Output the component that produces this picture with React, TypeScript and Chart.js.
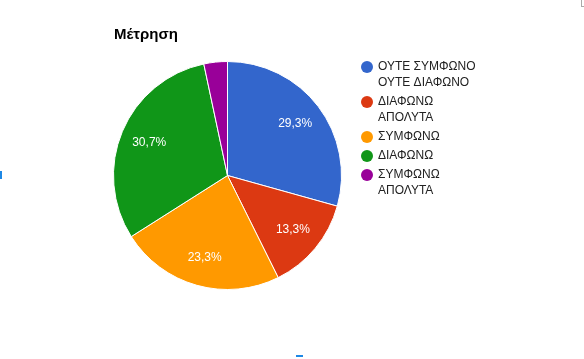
import React, { useEffect, useRef } from "react";
import { Chart, registerables } from "chart.js";

Chart.register(...registerables);

const chartTitle = "Μέτρηση";
const categories: string[][] = [
  ["ΟΥΤΕ ΣΥΜΦΩΝΟ", "ΟΥΤΕ ΔΙΑΦΩΝΟ"],
  ["ΔΙΑΦΩΝΩ", "ΑΠΟΛΥΤΑ"],
  ["ΣΥΜΦΩΝΩ"],
  ["ΔΙΑΦΩΝΩ"],
  ["ΣΥΜΦΩΝΩ", "ΑΠΟΛΥΤΑ"],
];
const counts = [44, 20, 35, 46, 5];
const colors = ["#3366cc", "#dc3912", "#ff9900", "#109618", "#990099"];

const FONT = "Arial, 'Liberation Sans', sans-serif";

const decorPlugin = {
  id: "decor",
  afterDatasetsDraw(chart: any) {
    const ctx = chart.ctx;
    const meta = chart.getDatasetMeta(0);
    const data = chart.data.datasets[0].data as number[];
    const total = data.reduce((a, b) => a + b, 0);
    ctx.save();
    ctx.fillStyle = "#ffffff";
    ctx.font = `12px ${FONT}`;
    ctx.textAlign = "center";
    ctx.textBaseline = "middle";
    meta.data.forEach((arc: any, i: number) => {
      const frac = data[i] / total;
      if (frac < 0.05) return;
      const mid = (arc.startAngle + arc.endAngle) / 2;
      const d = arc.outerRadius * 0.745;
      const x = arc.x + Math.cos(mid) * d;
      const y = arc.y + Math.sin(mid) * d;
      const txt = (frac * 100).toFixed(1).replace(".", ",") + "%";
      ctx.fillText(txt, x, y);
    });
    ctx.restore();
  },
  afterDraw(chart: any) {
    const ctx = chart.ctx;
    ctx.save();
    // title
    ctx.fillStyle = "#000000";
    ctx.font = `bold 15px ${FONT}`;
    ctx.textAlign = "left";
    ctx.textBaseline = "alphabetic";
    ctx.fillText(chartTitle, 114, 39);
    // legend
    const labels = chart.data.labels as string[][];
    const bg = chart.data.datasets[0].backgroundColor as string[];
    let y = 67;
    ctx.font = `12px ${FONT}`;
    ctx.textBaseline = "middle";
    labels.forEach((lines, i) => {
      ctx.fillStyle = bg[i];
      ctx.beginPath();
      ctx.arc(367, y, 6, 0, Math.PI * 2);
      ctx.fill();
      ctx.fillStyle = "#222222";
      lines.forEach((ln, j) => {
        ctx.fillText(ln, 378, y + j * 16);
      });
      y += (lines.length - 1) * 16 + 19;
    });
    ctx.restore();
  },
};

export default function App() {
  const ref = useRef<HTMLCanvasElement>(null);
  useEffect(() => {
    document.body.style.margin = "0";
    const chart = new Chart(ref.current!, {
      type: "pie",
      data: {
        labels: categories,
        datasets: [
          {
            data: counts,
            backgroundColor: colors,
            borderColor: "#ffffff",
            borderWidth: 1,
          },
        ],
      },
      options: {
        responsive: false,
        animation: false,
        layout: { padding: { left: 113, top: 61, right: 242, bottom: 69 } },
        plugins: {
          legend: { display: false },
          tooltip: { enabled: false },
          title: { display: false },
        },
      },
      plugins: [decorPlugin],
    });
    return () => chart.destroy();
  }, []);
  return (
    <div style={{ position: "relative", width: 584, height: 359, background: "#fff" }}>
      <canvas ref={ref} width={584} height={359} />
      <div style={{ position: "absolute", left: 0, top: 171, width: 2, height: 8, background: "#1e88e5" }} />
      <div style={{ position: "absolute", left: 296, top: 355, width: 7, height: 2, background: "#1e88e5" }} />
      <div style={{ position: "absolute", left: 581, top: 0, width: 1, height: 6, background: "#aaaaaa" }} />
      <div style={{ position: "absolute", left: 581, top: 6, width: 3, height: 1, background: "#aaaaaa" }} />
    </div>
  );
}
